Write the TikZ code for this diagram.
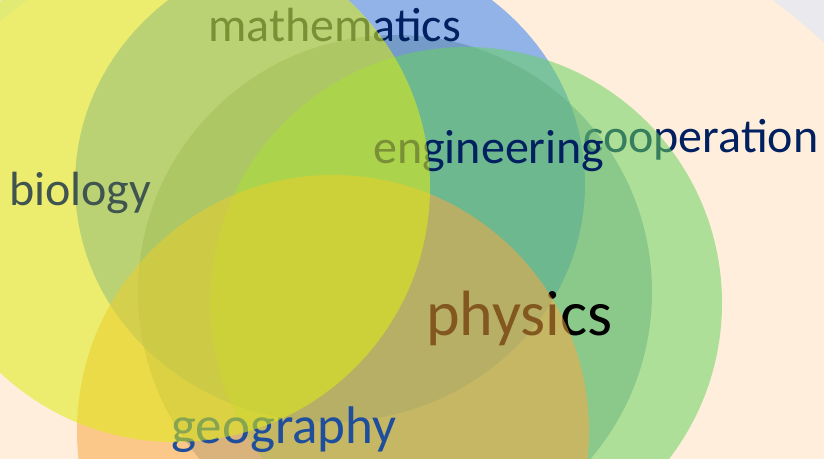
\documentclass[tikz,border=0pt]{standalone}
\usepackage{fontspec}
\setmainfont{Carlito}
\usepackage{xcolor}

\definecolor{pagegray}{RGB}{233,233,238}
\definecolor{peach}{RGB}{255,238,219}
\definecolor{mathblue}{RGB}{101,154,238}
\definecolor{steel}{RGB}{79,126,157}
\definecolor{coopgreen}{RGB}{102,210,93}
\definecolor{geoorange}{RGB}{251,167,63}
\definecolor{bioyellow}{RGB}{222,236,21}
\definecolor{navy}{RGB}{0,32,96}
\definecolor{geoblue}{RGB}{31,78,156}
\definecolor{slate}{RGB}{64,84,80}

\begin{document}
\begin{tikzpicture}[x=1pt, y=-1pt,
            disc/.style 2 args = {fill=#1, fill opacity=#2},
            topic/.style = {anchor=base west, inner sep=0pt, font=\fontsize{48}{56}\selectfont},
        ]
            % Page and frame
            \clip (0,0) rectangle (824,458);
            \fill[pagegray] (0,0) rectangle (824,458);
            \fill[peach] (400,502) circle (625pt);

            % Text that sits under the green circle
            \node[topic, text=navy] (coop) at (583,152) {cooperation};

            % Circles, back to front
            \fill[disc={mathblue}{0.7}] (330,184) ellipse [x radius=255pt, y radius=238pt];
            \fill[disc={steel}{0.42}] (395,292) circle (257pt);
            \fill[disc={coopgreen}{0.53}] (466,303) circle (256pt);

            % Labels between the circles
            \node[topic, text=navy] (eng) at (373,163) {engineering};
            \node[topic, text=navy] (math) at (208,41) {mathematics};
            \node[topic, text=black, font=\fontsize{64}{72}\selectfont] (phys) at (426,335) {physics};

            \fill[disc={geoorange}{0.52}] (333,431) circle (256pt);
            \node[topic, text=geoblue, font=\fontsize{53}{60}\selectfont] (geo) at (171,443) {geography};

            \fill[disc={bioyellow}{0.55}] (175,187) circle (255pt);
            \node[topic, text=slate] (bio) at (9,205) {biology};
        \end{tikzpicture}
\end{document}
